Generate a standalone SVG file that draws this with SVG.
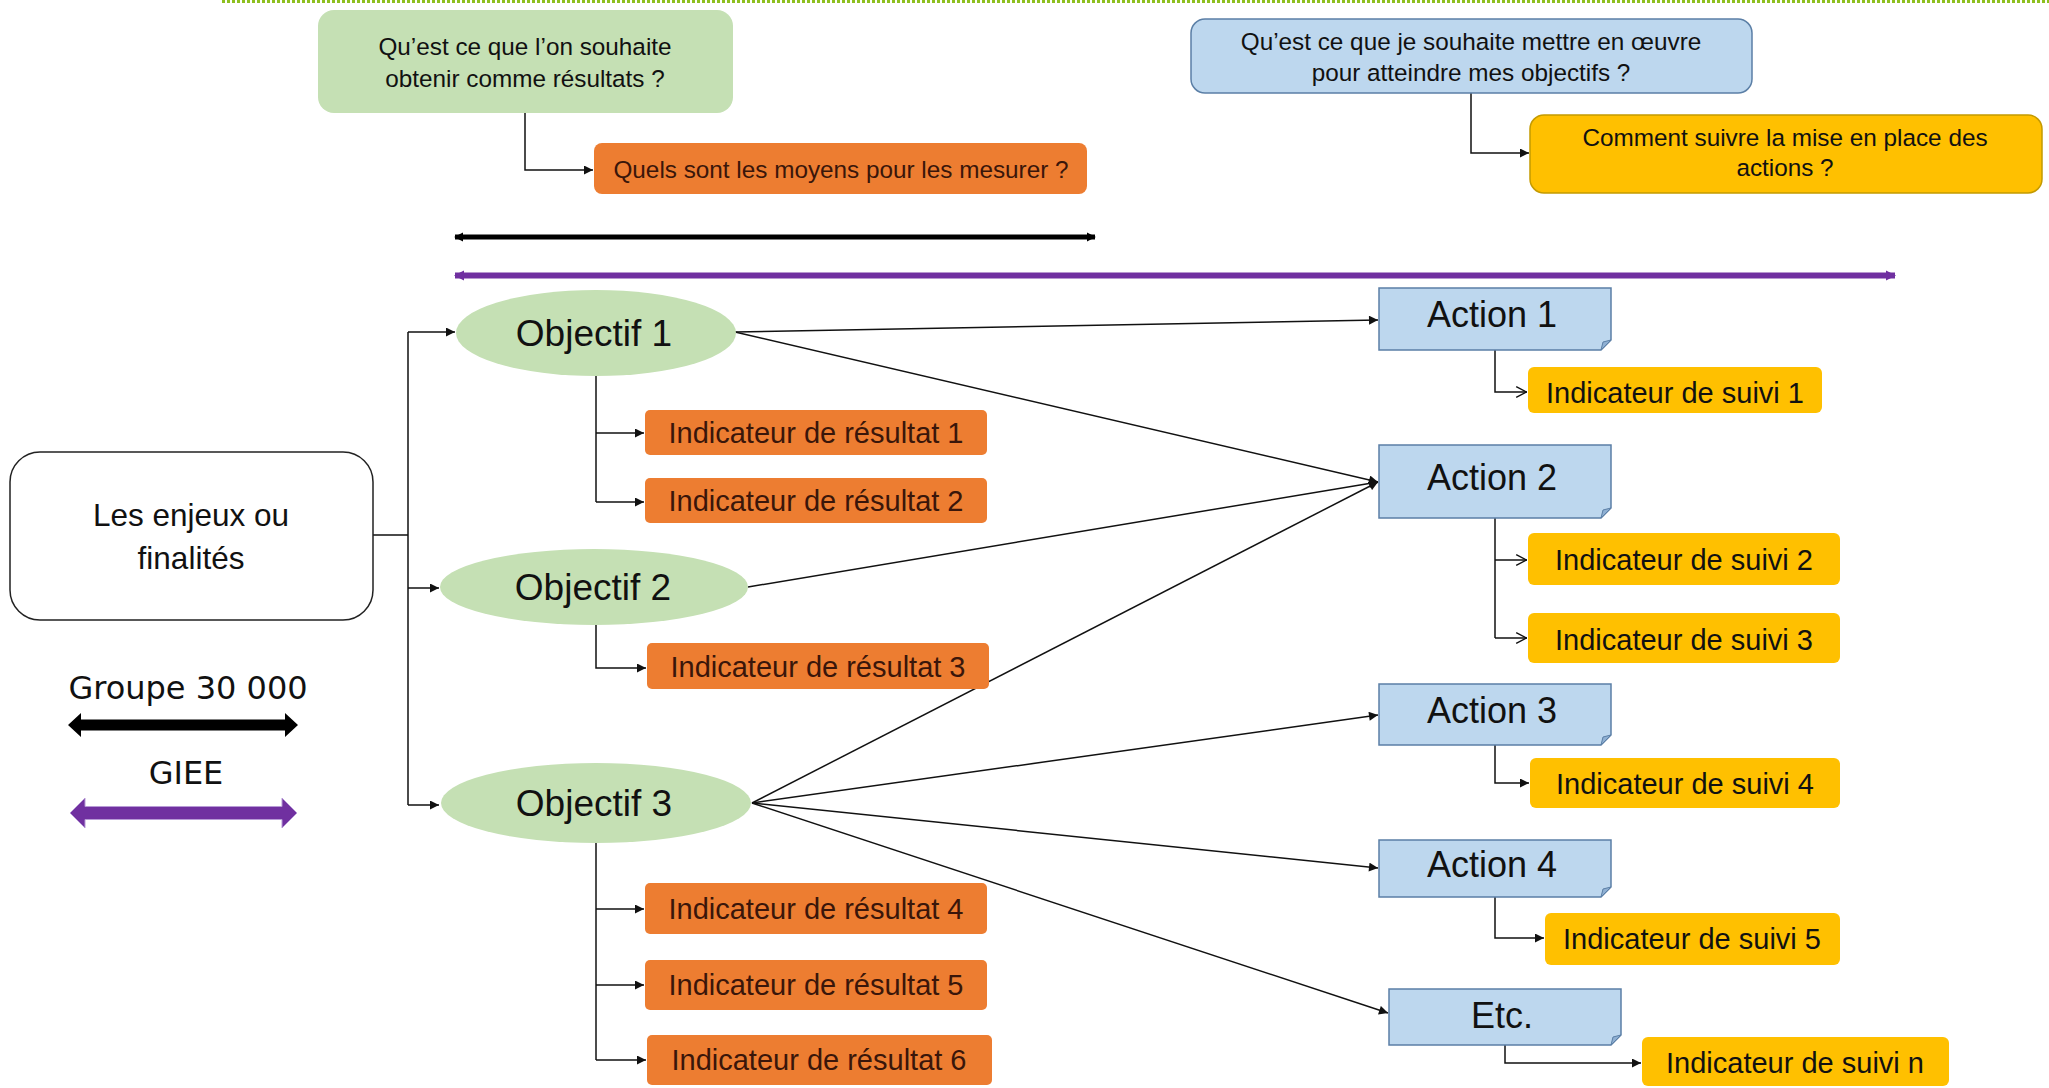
<svg xmlns="http://www.w3.org/2000/svg" width="2049" height="1088" viewBox="0 0 2049 1088">
<defs>
<style>
.t{font-family:"Liberation Sans",Arial,sans-serif;text-anchor:middle;fill:#111}
.q{font-size:24.3px}
.obj{font-size:37px}
.act{font-size:36px}
.ind{font-size:29px}
.enj{font-size:31.5px}
.leg{font-family:"DejaVu Sans",Verdana,sans-serif;font-size:32px;text-anchor:middle;fill:#111}
.conn{fill:none;stroke:#111;stroke-width:1.5}
.green{fill:#C5E0B4}
.orange{fill:#ED7D31}
.yellow{fill:#FFC000}
.blue{fill:#BDD7EE;stroke:#5B7FA6;stroke-width:1.5}
.ot{fill:#3a160a}
</style>
<marker id="ah" viewBox="0 0 10 10" refX="10" refY="5" markerWidth="10" markerHeight="9" orient="auto" markerUnits="userSpaceOnUse">
<path d="M0,0 L10,5 L0,10 Z" fill="#111"/>
</marker>
<marker id="ao" viewBox="0 0 10 10" refX="10" refY="5" markerWidth="12" markerHeight="14" orient="auto" markerUnits="userSpaceOnUse">
<path d="M1,0.5 L9.5,5 L1,9.5" fill="none" stroke="#111" stroke-width="1.2"/>
</marker>
<marker id="abk" viewBox="0 0 10 10" refX="9" refY="5" markerWidth="9" markerHeight="13" orient="auto-start-reverse" markerUnits="userSpaceOnUse">
<path d="M0,0 L10,5 L0,10 Z" fill="#000"/>
</marker>
<marker id="apu" viewBox="0 0 10 10" refX="9" refY="5" markerWidth="10" markerHeight="14" orient="auto-start-reverse" markerUnits="userSpaceOnUse">
<path d="M0,0 L10,5 L0,10 Z" fill="#7030A0"/>
</marker>
</defs>
<rect width="2049" height="1088" fill="#fff"/>

<!-- top dotted line -->
<line x1="222" y1="1.5" x2="2049" y2="1.5" stroke="#8DBF1F" stroke-width="3" stroke-dasharray="3,2"/>

<!-- scope arrows -->
<line x1="455" y1="237" x2="1095" y2="237" stroke="#000" stroke-width="5" marker-start="url(#abk)" marker-end="url(#abk)"/>
<line x1="455" y1="275.5" x2="1895" y2="275.5" stroke="#7030A0" stroke-width="6" marker-start="url(#apu)" marker-end="url(#apu)"/>

<!-- connectors -->
<g id="connectors">
<path class="conn" d="M525,113 V170 H593" marker-end="url(#ah)"/>
<path class="conn" d="M1471,93 V153 H1529" marker-end="url(#ah)"/>
<path class="conn" d="M373,535 H408 M408,332 V805"/>
<path class="conn" d="M408,332 H455" marker-end="url(#ah)"/>
<path class="conn" d="M408,588 H439" marker-end="url(#ah)"/>
<path class="conn" d="M408,805 H439" marker-end="url(#ah)"/>
<path class="conn" d="M596,376 V502"/>
<path class="conn" d="M596,433 H644" marker-end="url(#ah)"/>
<path class="conn" d="M596,502 H644" marker-end="url(#ah)"/>
<path class="conn" d="M596,625 V668 H646" marker-end="url(#ah)"/>
<path class="conn" d="M596,843 V1060"/>
<path class="conn" d="M596,909 H644" marker-end="url(#ah)"/>
<path class="conn" d="M596,985 H644" marker-end="url(#ah)"/>
<path class="conn" d="M596,1060 H646" marker-end="url(#ah)"/>
<path class="conn" d="M735,332 L1378,320" marker-end="url(#ah)"/>
<path class="conn" d="M735,332 L1378,482" marker-end="url(#ah)"/>
<path class="conn" d="M748,587 L1378,482" marker-end="url(#ah)"/>
<path class="conn" d="M752,803 L1378,482" marker-end="url(#ah)"/>
<path class="conn" d="M752,803 L1378,715" marker-end="url(#ah)"/>
<path class="conn" d="M752,803 L1378,868" marker-end="url(#ah)"/>
<path class="conn" d="M752,803 L1388,1013" marker-end="url(#ah)"/>
<path class="conn" d="M1495,350 V392 H1527" marker-end="url(#ao)"/>
<path class="conn" d="M1495,518 V638"/>
<path class="conn" d="M1495,560 H1527" marker-end="url(#ao)"/>
<path class="conn" d="M1495,638 H1527" marker-end="url(#ao)"/>
<path class="conn" d="M1495,745 V783 H1529" marker-end="url(#ah)"/>
<path class="conn" d="M1495,897 V938 H1544" marker-end="url(#ah)"/>
<path class="conn" d="M1505,1045 V1063 H1641" marker-end="url(#ah)"/>
</g>

<!-- top question boxes -->
<g id="q-resultats">
<rect class="green" x="318" y="10" width="415" height="103" rx="16"/>
<text class="t q" x="525" y="55">Qu’est ce que l’on souhaite</text>
<text class="t q" x="525" y="87">obtenir comme  résultats ?</text>
</g>
<g id="q-mesurer">
<rect class="orange" x="594" y="143" width="493" height="51" rx="8"/>
<text class="t q ot" x="841" y="178">Quels sont les moyens pour  les mesurer ?</text>
</g>
<g id="q-oeuvre">
<rect class="blue" x="1191" y="19" width="561" height="74" rx="14"/>
<text class="t q" x="1471" y="50">Qu’est ce que je souhaite mettre en œuvre</text>
<text class="t q" x="1471" y="81">pour atteindre mes objectifs ?</text>
</g>
<g id="q-suivre">
<rect class="yellow" x="1530" y="115" width="512" height="78" rx="14" stroke="#C49A00" stroke-width="1.5"/>
<text class="t q" x="1785" y="146">Comment  suivre la mise en place des</text>
<text class="t q" x="1785" y="176">actions ?</text>
</g>

<!-- enjeux -->
<g id="enjeux">
<rect x="10" y="452" width="363" height="168" rx="30" fill="#fff" stroke="#222" stroke-width="1.5"/>
<text class="t enj" x="191" y="526">Les enjeux ou</text>
<text class="t enj" x="191" y="569">finalités</text>
</g>

<!-- legend -->
<g id="legend">
<text class="leg" x="188" y="699">Groupe 30 000</text>
<polygon points="68,725 81,713 81,719.5 285,719.5 285,713 298,725 285,737 285,730.5 81,730.5 81,737" fill="#000"/>
<text class="leg" x="186" y="784">GIEE</text>
<polygon points="70,813 85,798 85,806.5 282,806.5 282,798 297,813 282,828 282,819.5 85,819.5 85,828" fill="#7030A0" stroke="#B79AD6" stroke-width="1"/>
</g>

<!-- objectives -->
<g id="obj1">
<ellipse class="green" cx="596" cy="333" rx="140" ry="43"/>
<text class="t obj" x="594" y="346">Objectif 1</text>
</g>
<g id="obj2">
<ellipse class="green" cx="594" cy="587" rx="154" ry="38"/>
<text class="t obj" x="593" y="600">Objectif 2</text>
</g>
<g id="obj3">
<ellipse class="green" cx="596" cy="803" rx="155" ry="40"/>
<text class="t obj" x="594" y="816">Objectif 3</text>
</g>

<!-- result indicators -->
<g id="ir1"><rect class="orange" x="645" y="410" width="342" height="45" rx="5"/><text class="t ind ot" x="816" y="443">Indicateur de résultat 1</text></g>
<g id="ir2"><rect class="orange" x="645" y="478" width="342" height="45" rx="5"/><text class="t ind ot" x="816" y="511">Indicateur de résultat 2</text></g>
<g id="ir3"><rect class="orange" x="647" y="643" width="342" height="46" rx="5"/><text class="t ind ot" x="818" y="677">Indicateur de résultat 3</text></g>
<g id="ir4"><rect class="orange" x="645" y="883" width="342" height="51" rx="5"/><text class="t ind ot" x="816" y="919">Indicateur de résultat 4</text></g>
<g id="ir5"><rect class="orange" x="645" y="960" width="342" height="50" rx="5"/><text class="t ind ot" x="816" y="995">Indicateur de résultat 5</text></g>
<g id="ir6"><rect class="orange" x="647" y="1035" width="345" height="50" rx="5"/><text class="t ind ot" x="819" y="1070">Indicateur de résultat 6</text></g>

<!-- actions -->
<g id="action1">
<path class="blue" d="M1379,288 H1611 V340 L1601,350 H1379 Z"/>
<path d="M1601,350 L1603,342 L1611,340 Z" fill="#8FB0D3" stroke="#5B7FA6" stroke-width="1"/>
<text class="t act" x="1492" y="327">Action 1</text>
</g>
<g id="action2">
<path class="blue" d="M1379,445 H1611 V508 L1601,518 H1379 Z"/>
<path d="M1601,518 L1603,510 L1611,508 Z" fill="#8FB0D3" stroke="#5B7FA6" stroke-width="1"/>
<text class="t act" x="1492" y="490">Action 2</text>
</g>
<g id="action3">
<path class="blue" d="M1379,684 H1611 V735 L1601,745 H1379 Z"/>
<path d="M1601,745 L1603,737 L1611,735 Z" fill="#8FB0D3" stroke="#5B7FA6" stroke-width="1"/>
<text class="t act" x="1492" y="723">Action 3</text>
</g>
<g id="action4">
<path class="blue" d="M1379,840 H1611 V887 L1601,897 H1379 Z"/>
<path d="M1601,897 L1603,889 L1611,887 Z" fill="#8FB0D3" stroke="#5B7FA6" stroke-width="1"/>
<text class="t act" x="1492" y="877">Action 4</text>
</g>
<g id="etc">
<path class="blue" d="M1389,989 H1621 V1035 L1611,1045 H1389 Z"/>
<path d="M1611,1045 L1613,1037 L1621,1035 Z" fill="#8FB0D3" stroke="#5B7FA6" stroke-width="1"/>
<text class="t act" x="1502" y="1028">Etc.</text>
</g>

<!-- follow-up indicators -->
<g id="is1"><rect class="yellow" x="1528" y="367" width="294" height="46" rx="6"/><text class="t ind" x="1675" y="403">Indicateur de suivi 1</text></g>
<g id="is2"><rect class="yellow" x="1528" y="533" width="312" height="52" rx="6"/><text class="t ind" x="1684" y="570">Indicateur de suivi 2</text></g>
<g id="is3"><rect class="yellow" x="1528" y="613" width="312" height="50" rx="6"/><text class="t ind" x="1684" y="650">Indicateur de suivi 3</text></g>
<g id="is4"><rect class="yellow" x="1530" y="758" width="310" height="50" rx="6"/><text class="t ind" x="1685" y="794">Indicateur de suivi 4</text></g>
<g id="is5"><rect class="yellow" x="1545" y="913" width="295" height="52" rx="6"/><text class="t ind" x="1692" y="949">Indicateur de suivi 5</text></g>
<g id="isn"><rect class="yellow" x="1642" y="1037" width="307" height="49" rx="6"/><text class="t ind" x="1795" y="1073">Indicateur de suivi n</text></g>
</svg>
